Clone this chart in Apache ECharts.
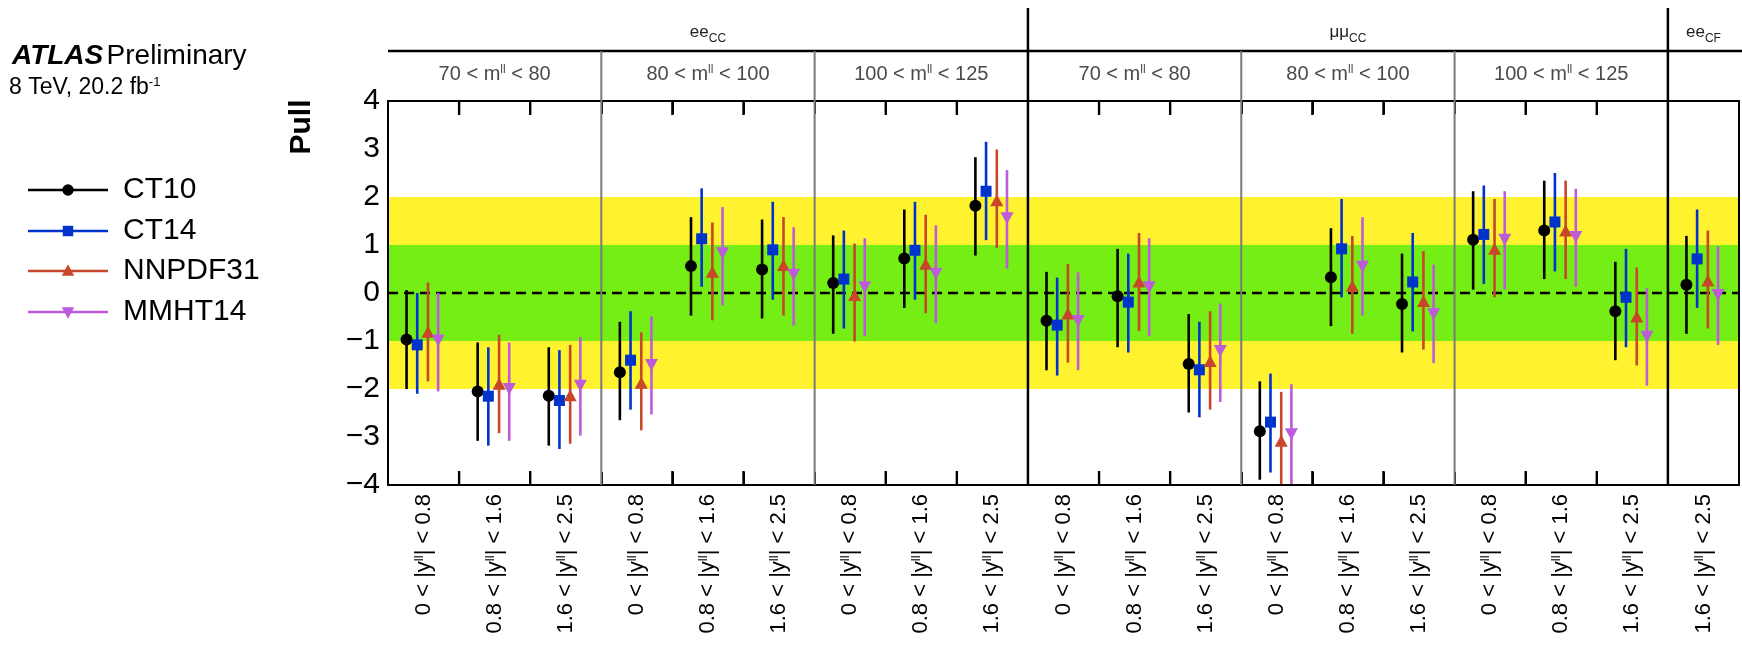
<!DOCTYPE html>
<html><head><meta charset="utf-8">
<script src="https://cdn.jsdelivr.net/npm/echarts@6/dist/echarts.min.js"></script>
<style>html,body{margin:0;padding:0;background:#fff}#c{width:1742px;height:645px}</style>
</head><body><div id="c"></div>
<script>
// ---------- data ----------
const categories = [
  '0 < |y{s|ll}| < 0.8','0.8 < |y{s|ll}| < 1.6','1.6 < |y{s|ll}| < 2.5',
  '0 < |y{s|ll}| < 0.8','0.8 < |y{s|ll}| < 1.6','1.6 < |y{s|ll}| < 2.5',
  '0 < |y{s|ll}| < 0.8','0.8 < |y{s|ll}| < 1.6','1.6 < |y{s|ll}| < 2.5',
  '0 < |y{s|ll}| < 0.8','0.8 < |y{s|ll}| < 1.6','1.6 < |y{s|ll}| < 2.5',
  '0 < |y{s|ll}| < 0.8','0.8 < |y{s|ll}| < 1.6','1.6 < |y{s|ll}| < 2.5',
  '0 < |y{s|ll}| < 0.8','0.8 < |y{s|ll}| < 1.6','1.6 < |y{s|ll}| < 2.5',
  '1.6 < |y{s|ll}| < 2.5'
];
const channelLabels = ['ee{sub|CC}', 'μμ{sub|CC}', 'ee{sub|CF}'];
const channelSpans = [[0, 8], [9, 17], [18, 18]];
const massLabels = ['70 < m{s|ll} < 80', '80 < m{s|ll} < 100', '100 < m{s|ll} < 125',
                    '70 < m{s|ll} < 80', '80 < m{s|ll} < 100', '100 < m{s|ll} < 125'];
const massSpans = [[0, 2], [3, 5], [6, 8], [9, 11], [12, 14], [15, 17]];
const yMin = -4, yMax = 4, yStep = 1;
const bandRanges = [[-2, 2], [-1, 1]];

const seriesNames = ['CT10', 'CT14', 'NNPDF31', 'MMHT14'];

const ct10Val = [-0.97, -2.05, -2.14, -1.65, 0.56, 0.49, 0.21, 0.72, 1.82, -0.58, -0.07, -1.48, -2.88, 0.33, -0.23, 1.11, 1.30, -0.38, 0.17];
const ct10Hi  = [0.06, -1.03, -1.13, -0.60, 1.58, 1.53, 1.20, 1.74, 2.83, 0.44, 0.92, -0.44, -1.84, 1.35, 0.82, 2.12, 2.34, 0.65, 1.19];
const ct10Lo  = [-2.00, -3.08, -3.18, -2.65, -0.47, -0.53, -0.85, -0.31, 0.78, -1.61, -1.13, -2.49, -3.89, -0.69, -1.24, 0.07, 0.29, -1.40, -0.85];

const ct14Val = [-1.08, -2.15, -2.24, -1.40, 1.13, 0.90, 0.29, 0.89, 2.12, -0.67, -0.19, -1.60, -2.69, 0.92, 0.23, 1.22, 1.48, -0.09, 0.71];
const ct14Hi  = [0.00, -1.13, -1.19, -0.38, 2.18, 1.90, 1.30, 1.90, 3.15, 0.32, 0.82, -0.60, -1.68, 1.96, 1.25, 2.24, 2.50, 0.92, 1.74];
const ct14Lo  = [-2.10, -3.18, -3.25, -2.43, 0.13, -0.14, -0.74, -0.14, 1.10, -1.72, -1.24, -2.59, -3.74, -0.09, -0.80, 0.19, 0.45, -1.13, -0.31];

const nnpdfVal = [-0.83, -1.91, -2.15, -1.89, 0.42, 0.56, -0.06, 0.59, 1.91, -0.45, 0.22, -1.44, -3.10, 0.13, -0.19, 0.90, 1.28, -0.51, 0.24];
const nnpdfHi  = [0.22, -0.87, -1.08, -0.82, 1.47, 1.58, 1.03, 1.63, 2.99, 0.60, 1.25, -0.38, -2.06, 1.19, 0.87, 1.96, 2.34, 0.53, 1.30];
const nnpdfLo  = [-1.84, -2.92, -3.14, -2.86, -0.57, -0.47, -1.01, -0.42, 0.94, -1.45, -0.79, -2.43, -4.15, -0.85, -1.18, -0.09, 0.29, -1.51, -0.74];

const mmhtVal = [-0.97, -1.98, -1.91, -1.48, 0.85, 0.40, 0.14, 0.42, 1.58, -0.56, 0.14, -1.19, -2.92, 0.57, -0.42, 1.13, 1.19, -0.89, -0.02];
const mmhtHi  = [0.00, -1.03, -0.92, -0.49, 1.79, 1.37, 1.14, 1.41, 2.56, 0.43, 1.14, -0.22, -1.90, 1.58, 0.59, 2.12, 2.17, 0.10, 0.97];
const mmhtLo  = [-2.05, -3.08, -2.97, -2.53, -0.26, -0.68, -0.90, -0.63, 0.51, -1.61, -0.90, -2.27, -4.05, -0.47, -1.46, 0.07, 0.13, -1.93, -1.08];

// ---------- styles ----------
const FONT = "'Liberation Sans', Arial, Helvetica, sans-serif";
const colors = ['#000000', '#0033CC', '#C8462A', '#BD5BDB'];
const shapes = ['circle', 'square', 'triUp', 'triDown'];
const offsets = [-0.239, -0.089, 0.062, 0.205];
const bandColors = ['#FFF22E', '#74EE15'];

const valSets = [[ct10Val, ct10Lo, ct10Hi], [ct14Val, ct14Lo, ct14Hi], [nnpdfVal, nnpdfLo, nnpdfHi], [mmhtVal, mmhtLo, mmhtHi]];

function markerEl(shape, x, y, color, s) {
  s = s || 1;
  if (shape === 'circle') return {type: 'circle', shape: {cx: x, cy: y, r: 6 * s}, style: {fill: color}};
  if (shape === 'square') return {type: 'rect', shape: {x: x - 5.5 * s, y: y - 5.5 * s, width: 11 * s, height: 11 * s}, style: {fill: color}};
  if (shape === 'triUp') return {type: 'polygon', shape: {points: [[x, y - 7 * s], [x + 6.5 * s, y + 5 * s], [x - 6.5 * s, y + 5 * s]]}, style: {fill: color}};
  return {type: 'polygon', shape: {points: [[x, y + 7 * s], [x + 6.5 * s, y - 5 * s], [x - 6.5 * s, y - 5 * s]]}, style: {fill: color}};
}

const clampV = v => Math.max(yMin, Math.min(yMax, v));

const series = [];

// bands + dashed zero line
series.push({
  type: 'custom', name: 'bands', z: 1, silent: true,
  data: bandRanges.map((r, k) => [k, r[0], r[1]]),
  renderItem(params, api) {
    const cs = params.coordSys;
    const k = api.value(0);
    const yb = api.coord([0, api.value(1)])[1];
    const yt = api.coord([0, api.value(2)])[1];
    const children = [{type: 'rect', shape: {x: cs.x, y: yt, width: cs.width, height: yb - yt}, style: {fill: bandColors[k]}}];
    if (k === bandRanges.length - 1) {
      const y0 = api.coord([0, 0])[1];
      children.push({type: 'line', z2: 5, shape: {x1: cs.x, y1: y0, x2: cs.x + cs.width, y2: y0},
        style: {stroke: '#000', lineWidth: 2.5, lineDash: [10, 6]}});
    }
    return {type: 'group', children};
  }
});

// group separators (0 thin, 1 thick) and inner ticks (2)
const boundaries = [];
massSpans.forEach((s, k) => { if (k > 0) boundaries.push([s[0], 0]); });
channelSpans.forEach((s, k) => { if (k > 0) { const b = boundaries.find(q => q[0] === s[0]); if (b) b[1] = 1; else boundaries.push([s[0], 1]); } });
const boundarySet = new Set(boundaries.map(b => b[0]));
const tickItems = [];
for (let i = 1; i < categories.length; i++) if (!boundarySet.has(i)) tickItems.push([i, 2]);
series.push({
  type: 'custom', name: 'separators', z: 30, silent: true, clip: false,
  data: boundaries.concat(tickItems),
  renderItem(params, api) {
    const cs = params.coordSys;
    const w = api.size([1, 0])[0];
    const x = api.coord([api.value(0), 0])[0] - w / 2;
    const kind = api.value(1);
    const yb = cs.y + cs.height, yt = cs.y;
    if (kind === 2) {
      return {type: 'group', children: [
        {type: 'rect', shape: {x: x - 1.2, y: yb - 14, width: 2.4, height: 14}, style: {fill: '#000'}},
        {type: 'rect', shape: {x: x - 1.2, y: yt, width: 2.4, height: 14}, style: {fill: '#000'}}
      ]};
    }
    const thick = kind === 1;
    const lw = thick ? 2.5 : 2;
    const top = thick ? 8 : 51;
    return {type: 'rect', shape: {x: x - lw / 2, y: top, width: lw, height: yb - top}, style: {fill: thick ? '#000' : '#7a7a7a'}};
  }
});

// header labels
series.push({
  type: 'custom', name: 'headers', z: 4, silent: true, clip: false,
  data: channelSpans.map((s, k) => [s[0], s[1], 0, k]).concat(massSpans.map((s, k) => [s[0], s[1], 1, k])),
  renderItem(params, api) {
    const cs = params.coordSys;
    const x1 = api.coord([api.value(0), 0])[0];
    const x2 = api.coord([api.value(1), 0])[0];
    const row = api.value(2), k = api.value(3);
    const children = [];
    if (row === 0 && k === 0) {
      children.push({type: 'line', shape: {x1: cs.x, y1: 51, x2: 1742, y2: 51}, style: {stroke: '#000', lineWidth: 2.5}});
    }
    if (row === 0) {
      children.push({type: 'text', style: {text: channelLabels[k], x: (x1 + x2) / 2, y: 24, align: 'center', verticalAlign: 'top',
        fill: '#222', fontFamily: FONT, fontSize: 17,
        rich: {sub: {fontSize: 12, fontFamily: FONT, fill: '#222', padding: [9, 0, 0, 0], verticalAlign: 'top', lineHeight: 12}}}});
    } else {
      children.push({type: 'text', style: {text: massLabels[k], x: (x1 + x2) / 2, y: 74, align: 'center', verticalAlign: 'middle',
        fill: '#4a4a4a', fontFamily: FONT, fontSize: 20,
        rich: {s: {fontSize: 12, fontFamily: FONT, fill: '#4a4a4a', verticalAlign: 'top'}}}});
    }
    return {type: 'group', children};
  }
});

// error bars + markers
seriesNames.forEach((name, idx) => {
  const [vals, lo, hi] = valSets[idx];
  series.push({
    type: 'custom', name, z: 10 + idx,
    data: vals.map((v, i) => [i, v, lo[i], hi[i]]),
    renderItem(params, api) {
      const i = api.value(0);
      const w = api.size([1, 0])[0];
      const p = api.coord([i, api.value(1)]);
      const pl = api.coord([i, clampV(api.value(2))]);
      const ph = api.coord([i, clampV(api.value(3))]);
      const x = p[0] + offsets[idx] * w;
      const children = [{type: 'line', shape: {x1: x, y1: pl[1], x2: x, y2: ph[1]}, style: {stroke: colors[idx], lineWidth: 2.6}}];
      if (api.value(1) >= yMin && api.value(1) <= yMax) children.push(markerEl(shapes[idx], x, p[1], colors[idx]));
      return {type: 'group', children};
    }
  });
});

// ---------- legend & texts (graphic) ----------
const legendY = [190, 231, 271, 312];
const graphic = [
  {type: 'text', left: 12, top: 42, style: {text: '{a|ATLAS} {p|Preliminary}', fill: '#000',
    rich: {a: {fontFamily: FONT, fontSize: 28, fontWeight: 'bold', fontStyle: 'italic', fill: '#000'},
           p: {fontFamily: FONT, fontSize: 28, fill: '#000'}}}},
  {type: 'text', left: 9, top: 76, style: {text: '8 TeV, 20.2 fb{s|-1}', fill: '#000', fontFamily: FONT, fontSize: 23,
    rich: {s: {fontFamily: FONT, fontSize: 13, fill: '#000', verticalAlign: 'top'}}}},
  {type: 'text', x: 302, y: 127, rotation: Math.PI / 2, style: {text: 'Pull', fill: '#000', fontFamily: FONT, fontSize: 30, fontWeight: 'bold', align: 'center', verticalAlign: 'middle'}}
];
seriesNames.forEach((name, idx) => {
  const y = legendY[idx];
  graphic.push({type: 'line', shape: {x1: 28, y1: y, x2: 108, y2: y}, style: {stroke: colors[idx], lineWidth: 2.5}});
  graphic.push(markerEl(shapes[idx], 68, y, colors[idx], 0.95));
  graphic.push({type: 'text', x: 123, y: y, style: {text: name, fill: '#000', fontFamily: FONT, fontSize: 30, verticalAlign: 'middle'}});
});

// ---------- chart ----------
const axisTickCfg = {show: true, inside: true, interval: 0, length: 13, lineStyle: {color: '#000', width: 2}};
const chart = echarts.init(document.getElementById('c'), null, {renderer: 'canvas'});
chart.setOption({
  animation: false,
  backgroundColor: '#fff',
  grid: {left: 388, top: 101, right: 3, bottom: 160, containLabel: false},
  xAxis: [
    {type: 'category', data: categories, position: 'bottom', boundaryGap: true, z: 20,
      axisLine: {onZero: false, lineStyle: {color: '#000', width: 2}}, axisTick: axisTickCfg,
      axisLabel: {rotate: 90, margin: 9, interval: 0, color: '#000', fontFamily: FONT, fontSize: 22,
        rich: {s: {fontSize: 13, fontFamily: FONT, color: '#000', verticalAlign: 'top'}}}},
    {type: 'category', data: categories, position: 'top', boundaryGap: true, z: 20,
      axisLine: {onZero: false, lineStyle: {color: '#000', width: 2}}, axisTick: axisTickCfg, axisLabel: {show: false}}
  ],
  yAxis: [
    {type: 'value', min: yMin, max: yMax, interval: yStep, z: 20,
      axisLine: {show: true, onZero: false, lineStyle: {color: '#000', width: 2}}, axisTick: {show: false}, splitLine: {show: false},
      axisLabel: {fontFamily: FONT, fontSize: 30, color: '#000', margin: 8, formatter: v => String(v).replace('-', '\u2212')}},
    {type: 'value', min: yMin, max: yMax, interval: yStep, position: 'right', z: 20,
      axisLine: {show: true, onZero: false, lineStyle: {color: '#000', width: 2}}, axisTick: {show: false}, splitLine: {show: false}, axisLabel: {show: false}}
  ],
  graphic,
  series
});
</script></body></html>
